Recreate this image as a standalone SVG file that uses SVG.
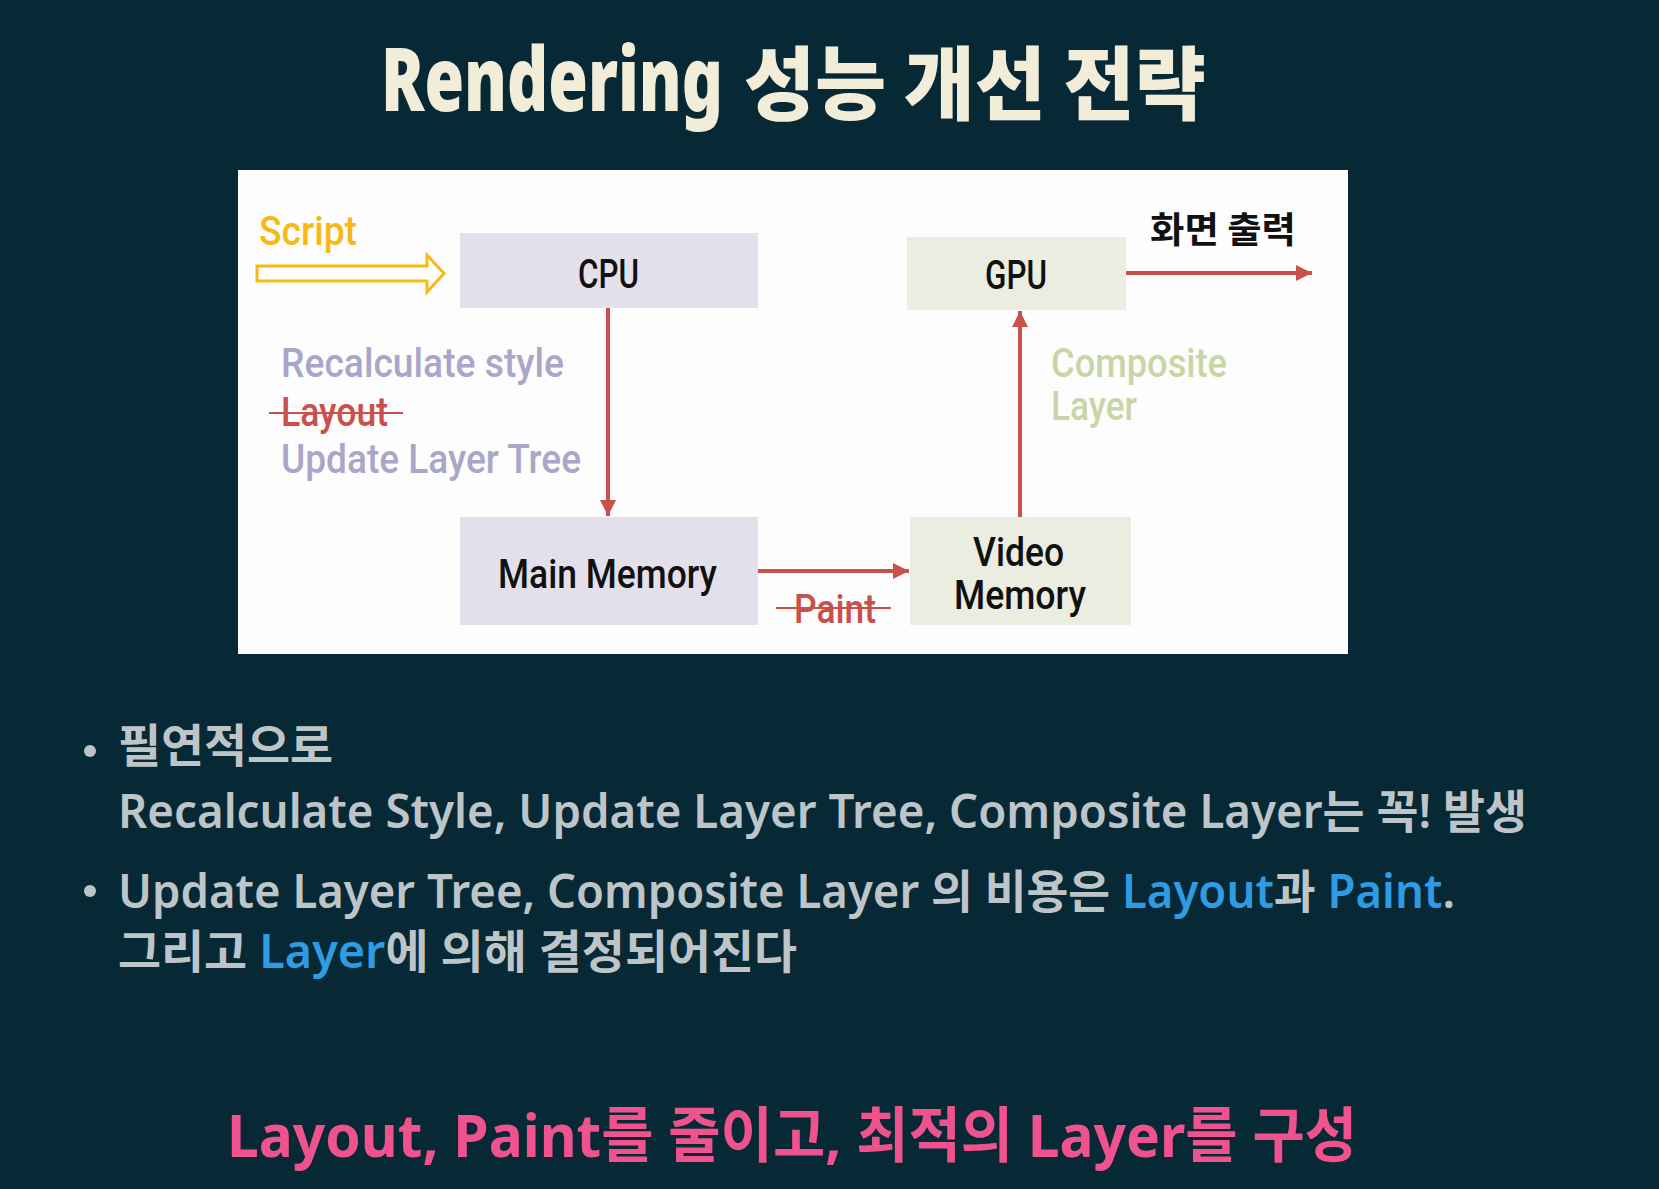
<svg xmlns="http://www.w3.org/2000/svg" width="1659" height="1189" viewBox="0 0 1659 1189">
<defs>
<style>
.lbl{font-family:Roboto,'Liberation Sans','Noto Sans CJK KR',sans-serif;font-weight:500;font-size:40px;fill:#111111}
.cap{font-family:Roboto,'Liberation Sans',sans-serif;font-weight:500;font-size:40px}
.bul{font-family:'Noto Sans','Noto Sans CJK KR',sans-serif;font-weight:600;font-size:46px;fill:#BEC5C9}
.blue{fill:#2F9BE2}
.conn{stroke:#C9514C;stroke-width:4;fill:none}
.ttl{font-weight:900;fill:#F2EDD9}
</style>
<marker id="ah" markerUnits="userSpaceOnUse" markerWidth="18" markerHeight="18" refX="16" refY="8" orient="auto">
<path d="M0,0 L16,8 L0,16 z" fill="#C9514C"/>
</marker>
</defs>
<rect x="0" y="0" width="1659" height="1189" fill="#062935"/>

<g id="title">
<text class="ttl" transform="translate(381,111) scale(0.75,1)" x="0" y="0" textLength="456" lengthAdjust="spacingAndGlyphs" font-family="'Noto Sans',sans-serif" font-size="88">Rendering</text>
<text class="ttl" transform="translate(744,113) scale(0.9,1)" x="0" y="0" textLength="513" lengthAdjust="spacingAndGlyphs" font-family="'Noto Sans CJK KR',sans-serif" font-size="80">성능 개선 전략</text>
</g>

<rect id="panel" x="238" y="170" width="1110" height="484" fill="#FDFDFD"/>

<g id="script">
<text class="cap" x="259" y="245" textLength="98" lengthAdjust="spacingAndGlyphs" fill="#F6B918">Script</text>
<polygon points="257,266 427,266 427,255 444,273.5 427,292 427,281 257,281" fill="#FFFFFF" stroke="#F6B918" stroke-width="3" stroke-linejoin="miter"/>
</g>

<g id="cpu">
<rect x="460" y="233" width="298" height="75" fill="#E3E0EC"/>
<text class="lbl" x="578" y="288" textLength="61" lengthAdjust="spacingAndGlyphs">CPU</text>
</g>

<g id="main-memory">
<rect x="460" y="517" width="298" height="108" fill="#E3E0EC"/>
<text class="lbl" x="498" y="588" textLength="219" lengthAdjust="spacingAndGlyphs">Main Memory</text>
</g>

<g id="gpu">
<rect x="907" y="237" width="219" height="73" fill="#EAEDDF"/>
<text class="lbl" x="985" y="289" textLength="62" lengthAdjust="spacingAndGlyphs">GPU</text>
</g>

<g id="video-memory">
<rect x="910" y="517" width="221" height="108" fill="#EAEDDF"/>
<text class="lbl" font-size="36"><tspan x="973" y="566" textLength="91" lengthAdjust="spacingAndGlyphs">Video</tspan><tspan x="954" y="609" textLength="132" lengthAdjust="spacingAndGlyphs">Memory</tspan></text>
</g>

<g id="connectors">
<path class="conn" d="M608,308 L608,516" marker-end="url(#ah)"/>
<path class="conn" d="M758,571 L909,571" marker-end="url(#ah)"/>
<path class="conn" d="M1020,517 L1020,311" marker-end="url(#ah)"/>
<path class="conn" d="M1126,273 L1312,273" marker-end="url(#ah)"/>
</g>

<g id="cpu-labels">
<text class="cap" x="281" y="377" textLength="283" lengthAdjust="spacingAndGlyphs" fill="#A9A6C9">Recalculate style</text>
<text class="cap" x="281" y="426" textLength="107" lengthAdjust="spacingAndGlyphs" fill="#CB4F4A">Layout</text>
<line x1="269" y1="413" x2="403" y2="413" stroke="#CB4F4A" stroke-width="2"/>
<text class="cap" x="281" y="473" textLength="300" lengthAdjust="spacingAndGlyphs" fill="#A9A6C9">Update Layer Tree</text>
</g>

<g id="gpu-labels">
<text class="cap" fill="#C8D6A6" font-size="36"><tspan x="1051" y="377" textLength="176" lengthAdjust="spacingAndGlyphs">Composite</tspan><tspan x="1051" y="420" textLength="86" lengthAdjust="spacingAndGlyphs">Layer</tspan></text>
<text x="1150" y="243" textLength="146" lengthAdjust="spacingAndGlyphs" font-family="'Noto Sans CJK KR',sans-serif" font-weight="700" font-size="36" fill="#111111">화면 출력</text>
</g>

<g id="paint-label">
<text class="cap" x="794" y="623" textLength="82" lengthAdjust="spacingAndGlyphs" fill="#CB4F4A">Paint</text>
<line x1="776" y1="608" x2="891" y2="608" stroke="#CB4F4A" stroke-width="2"/>
</g>

<g id="bullets">
<circle cx="90" cy="751" r="6" fill="#BEC5C9"/>
<text class="bul" x="118" y="762" textLength="215" lengthAdjust="spacingAndGlyphs">필연적으로</text>
<text class="bul" x="118" y="828" textLength="1409" lengthAdjust="spacingAndGlyphs">Recalculate Style, Update Layer Tree, Composite Layer는 꼭! 발생</text>
<circle cx="90" cy="891" r="6" fill="#BEC5C9"/>
<text class="bul" x="118" y="908" textLength="1337" lengthAdjust="spacingAndGlyphs">Update Layer Tree, Composite Layer 의 비용은 <tspan class="blue">Layout</tspan>과 <tspan class="blue">Paint</tspan>.</text>
<text class="bul" x="118" y="968" textLength="679" lengthAdjust="spacingAndGlyphs">그리고 <tspan class="blue">Layer</tspan>에 의해 결정되어진다</text>
</g>

<g id="conclusion">
<text x="227" y="1157" textLength="1130" lengthAdjust="spacingAndGlyphs" font-family="'Noto Sans','Noto Sans CJK KR',sans-serif" font-weight="700" font-size="60" fill="#F0528D">Layout, Paint를 줄이고, 최적의 Layer를 구성</text>
</g>
</svg>
